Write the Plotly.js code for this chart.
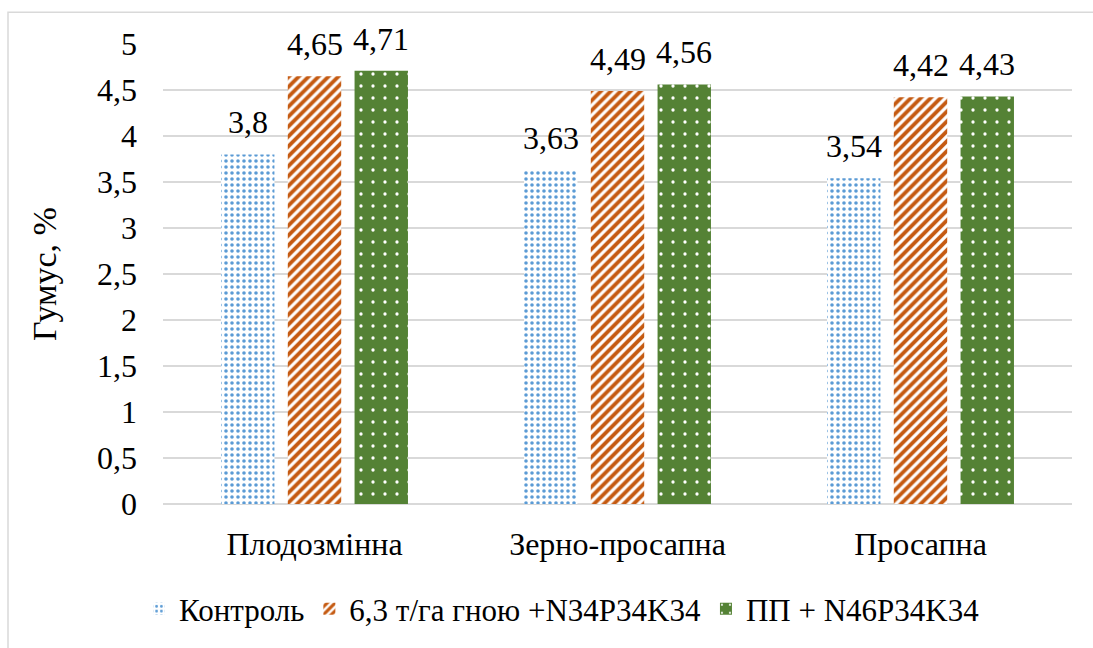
<!DOCTYPE html>
<html>
<head>
<meta charset="utf-8">
<script src="https://cdn.plot.ly/plotly-3.0.1.min.js"></script>
</head>
<body style="margin:0;padding:0;background:#ffffff">
<div id="chart" style="width:1093px;height:648px"></div>
<script>
const categories = ['Плодозмінна', 'Зерно-просапна', 'Просапна'];
const controlValues = [3.8, 3.63, 3.54];
const manureValues = [4.65, 4.49, 4.42];
const ppValues = [4.71, 4.56, 4.43];
const seriesNames = ['Контроль', '6,3 т/га гною +N34P34K34', 'ПП + N46P34K34'];
const yTicks = [0, 0.5, 1, 1.5, 2, 2.5, 3, 3.5, 4, 4.5, 5];

const FONT = '"Liberation Serif", serif';
const W = 1093, H = 648;
const margin = { l: 163, r: 21, t: 44, b: 140 };
const BARGAP = 0.339, BARGROUPGAP = 0.2;
const plotW = W - margin.l - margin.r;
const plotH = H - margin.t - margin.b;
const slotPx = plotW / categories.length * (1 - BARGAP) / 3;

const fmt = v => String(v).replace('.', ',');

const seriesValues = [controlValues, manureValues, ppValues];
const styles = [
  { color: '#ffffff', pattern: { shape: '.', fgcolor: '#5B9BD5', bgcolor: '#ffffff', size: 6, solidity: 0.28, fillmode: 'replace' } },
  { color: '#ffffff', pattern: { shape: '/', fgcolor: '#C55A11', bgcolor: '#ffffff', size: 7, solidity: 0.55, fillmode: 'replace' } },
  { color: '#548235', pattern: { shape: '.', fgcolor: '#ffffff', bgcolor: '#548235', size: 12, solidity: 0.06, fillmode: 'replace' } }
];

const traces = seriesValues.map((vals, i) => ({
  type: 'bar',
  name: seriesNames[i],
  x: categories,
  y: vals,
  marker: { color: styles[i].color, pattern: styles[i].pattern, line: { width: 0 } },
  hovertemplate: '%{x}: %{y}<extra>' + seriesNames[i] + '</extra>'
}));

const annotations = [];
seriesValues.forEach((vals, i) => {
  vals.forEach((v, j) => {
    annotations.push({
      x: categories[j], y: v, xref: 'x', yref: 'y',
      text: fmt(v), showarrow: false,
      xanchor: 'center', yanchor: 'bottom',
      xshift: (i - 1) * slotPx, yshift: 12,
      font: { family: FONT, size: 32 }
    });
  });
});

const layout = {
  width: W, height: H,
  margin: margin,
  paper_bgcolor: '#ffffff',
  plot_bgcolor: '#ffffff',
  separators: ', ',
  barmode: 'group',
  bargap: BARGAP,
  bargroupgap: BARGROUPGAP,
  font: { family: FONT, size: 32, color: '#000' },
  xaxis: {
    type: 'category',
    showgrid: false, showline: false, zeroline: false,
    ticks: '', ticklabelstandoff: 18,
    tickfont: { family: FONT, size: 32 }
  },
  yaxis: {
    range: [0, 5],
    tickvals: yTicks,
    ticktext: yTicks.map(fmt),
    showgrid: true, gridcolor: '#D9D9D9', gridwidth: 1.5,
    zeroline: true, zerolinecolor: '#D9D9D9', zerolinewidth: 1.5,
    showline: false, ticks: '',
    ticklabelstandoff: 25,
    tickfont: { family: FONT, size: 32 },
    title: { text: 'Гумус, %', standoff: 30, font: { family: FONT, size: 34 } }
  },
  legend: {
    orientation: 'h',
    x: (562 - margin.l) / plotW, xanchor: 'center',
    y: (margin.t + plotH - 614) / plotH, yanchor: 'middle',
    font: { family: FONT, size: 31 },
    bgcolor: 'rgba(0,0,0,0)'
  },
  annotations: annotations,
  shapes: [{
    type: 'rect', xref: 'paper', yref: 'paper',
    x0: (8 - margin.l) / plotW, x1: 1.3,
    y0: -0.6, y1: (margin.t + plotH - 12) / plotH,
    line: { color: '#D9D9D9', width: 1.5 }, fillcolor: 'rgba(0,0,0,0)', layer: 'below'
  }],
  showlegend: true
};

Plotly.newPlot('chart', traces, layout, { displayModeBar: false }).then(gd => {
  gd.querySelectorAll('svg text').forEach(t => { t.style.fontFamily = '"Liberation Serif", serif'; });
});
</script>
</body>
</html>
